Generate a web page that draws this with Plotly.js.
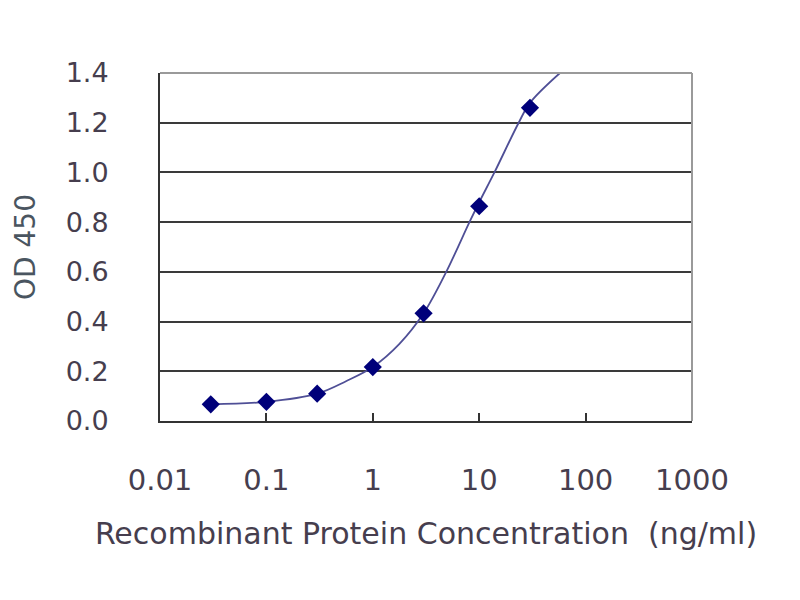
<!DOCTYPE html>
<html>
<head>
<meta charset="utf-8">
<script src="https://cdn.plot.ly/plotly-3.0.1.min.js"></script>
<style>
  body { margin: 0; background: #fff; }
  #chart { width: 800px; height: 600px; }
</style>
</head>
<body>
<div id="chart"></div>
<script>
// measured points (ng/ml vs OD 450)
var conc = [0.03, 0.1, 0.3, 1, 3, 10, 30];
var od = [0.067, 0.077, 0.11, 0.217, 0.433, 0.864, 1.26];

// fitted curve
var fitX = [0.03, 0.1, 0.3, 0.56, 1, 1.78, 3, 4.9, 8.1, 10, 13.9, 23.5, 30, 57.4];
var fitY = [0.067, 0.077, 0.11, 0.16, 0.217, 0.31, 0.433, 0.6, 0.8, 0.88, 1.0, 1.2, 1.28, 1.4];

var xTicks = [0.01, 0.1, 1, 10, 100, 1000];
var xTickText = ["0.01", "0.1", "1", "10", "100", "1000"];
var yTicks = [0, 0.2, 0.4, 0.6, 0.8, 1.0, 1.2, 1.4];
var yTickText = ["0.0", "0.2", "0.4", "0.6", "0.8", "1.0", "1.2", "1.4"];

var txt = "#463e4e";
var fnt = "DejaVu Sans, Arial, sans-serif";

var data = [
  {
    x: fitX, y: fitY,
    mode: 'lines', type: 'scatter',
    line: { color: '#4f4f96', width: 1.8, shape: 'spline', smoothing: 1 },
    hoverinfo: 'skip'
  },
  {
    x: conc, y: od,
    mode: 'markers', type: 'scatter',
    marker: { symbol: 'diamond', size: 14, color: '#00007a' }
  }
];

var layout = {
  width: 800, height: 600,
  margin: { l: 160, r: 108, t: 73, b: 179 },
  paper_bgcolor: '#fff', plot_bgcolor: '#fff',
  showlegend: false,
  font: { family: fnt, size: 27, color: txt },
  xaxis: {
    type: 'log', range: [-2, 3],
    tickvals: xTicks, ticktext: xTickText,
    tickfont: { size: 29 },
    ticks: 'inside', ticklen: 8, tickwidth: 2, tickcolor: '#333',
    showgrid: false, zeroline: false,
    showline: true, linecolor: '#333', linewidth: 2,
    ticklabelstandoff: 32,
    title: { text: 'Recombinant Protein Concentration  (ng/ml)', font: { size: 30, color: txt }, standoff: 27 }
  },
  yaxis: {
    range: [0, 1.4],
    tickvals: yTicks, ticktext: yTickText,
    tickfont: { size: 27 },
    ticks: '', showgrid: true, gridcolor: '#3a3a3a', gridwidth: 2,
    zeroline: false,
    showline: true, linecolor: '#333', linewidth: 2,
    ticklabelstandoff: 44,
    title: { text: 'OD 450', font: { size: 28, color: '#4a5560' }, standoff: 22 }
  },
  shapes: [
    { type: 'line', xref: 'paper', yref: 'paper', x0: 0, x1: 1, y0: 1, y1: 1,
      line: { color: '#9a9a9a', width: 2 }, layer: 'above' },
    { type: 'line', xref: 'paper', yref: 'paper', x0: 1, x1: 1, y0: 0, y1: 1,
      line: { color: '#9a9a9a', width: 2 }, layer: 'above' }
  ]
};

Plotly.newPlot('chart', data, layout, { staticPlot: true });
</script>
</body>
</html>
